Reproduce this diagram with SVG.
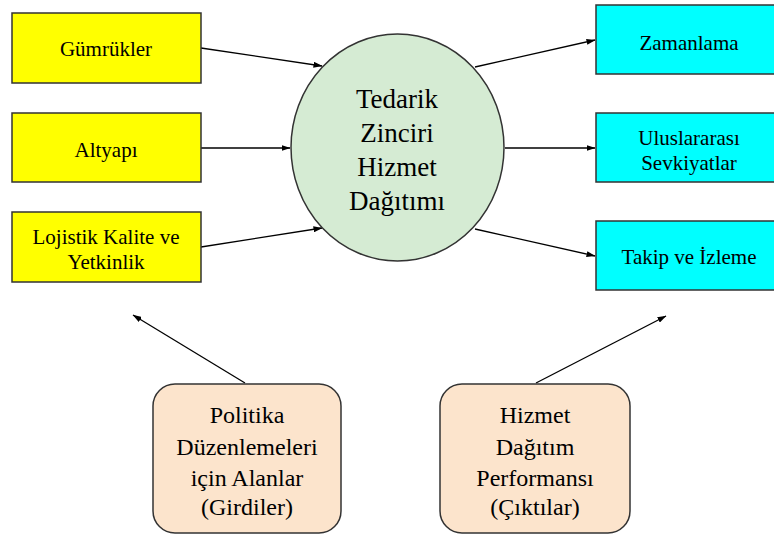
<svg xmlns="http://www.w3.org/2000/svg" width="774" height="534" viewBox="0 0 774 534">
<defs>
<marker id="ah" markerWidth="9" markerHeight="6" refX="8.5" refY="3" orient="auto" markerUnits="userSpaceOnUse">
<path d="M0,0 L9,3 L0,6 Z" fill="#000"/>
</marker>
<style>
.box{stroke:#333;stroke-width:1.5}
.in{fill:#FFFF00}
.out{fill:#00FFFF}
.peach{fill:#FCE4CC}
.t{font-family:"Liberation Serif","Times New Roman",serif;fill:#000;text-anchor:middle}
.s21{font-size:21px}
.s24{font-size:24px}
.s27{font-size:27px}
.c{stroke:#000;stroke-width:1.3;fill:none;marker-end:url(#ah)}
</style>
</defs>
<rect width="774" height="534" fill="#fff"/>
<g id="connectors">
<line class="c" x1="201" y1="48" x2="322" y2="66"/>
<line class="c" x1="201" y1="148" x2="290" y2="148"/>
<line class="c" x1="201" y1="247" x2="322" y2="228"/>
<line class="c" x1="475" y1="67" x2="595" y2="40"/>
<line class="c" x1="505" y1="148" x2="595" y2="148"/>
<line class="c" x1="475" y1="229" x2="595" y2="256"/>
<line class="c" x1="245" y1="383" x2="133" y2="315"/>
<line class="c" x1="536" y1="383" x2="666" y2="316"/>
</g>
<g id="gumrukler">
<rect class="box in" x="12" y="13" width="189" height="70"/>
<text class="t s21" x="106" y="56">Gümrükler</text>
</g>
<g id="altyapi">
<rect class="box in" x="12" y="113" width="189" height="69"/>
<text class="t s21" x="106" y="157">Altyapı</text>
</g>
<g id="lojistik">
<rect class="box in" x="12" y="212" width="189" height="70"/>
<text class="t s21" x="106" y="244">Lojistik Kalite ve</text>
<text class="t s21" x="106" y="269">Yetkinlik</text>
</g>
<g id="center">
<ellipse cx="397.5" cy="147.5" rx="106.5" ry="113.5" fill="#D5EBD3" stroke="#333" stroke-width="1.5"/>
<text class="t s27" x="397" y="108">Tedarik</text>
<text class="t s27" x="397" y="142">Zinciri</text>
<text class="t s27" x="397" y="176">Hizmet</text>
<text class="t s27" x="397" y="210">Dağıtımı</text>
</g>
<g id="zamanlama">
<rect class="box out" x="596" y="5" width="190" height="69"/>
<text class="t s21" x="689" y="50">Zamanlama</text>
</g>
<g id="uluslararasi">
<rect class="box out" x="596" y="113" width="190" height="69"/>
<text class="t s21" x="689" y="145">Uluslararası</text>
<text class="t s21" x="689" y="170">Sevkiyatlar</text>
</g>
<g id="takip">
<rect class="box out" x="596" y="221" width="190" height="69"/>
<text class="t s21" x="689" y="264">Takip ve İzleme</text>
</g>
<g id="politika">
<rect class="box peach" x="153" y="384" width="188" height="149" rx="22" ry="22"/>
<text class="t s24" x="247" y="423">Politika</text>
<text class="t s24" x="247" y="455">Düzenlemeleri</text>
<text class="t s24" x="247" y="486">için Alanlar</text>
<text class="t s24" x="247" y="515">(Girdiler)</text>
</g>
<g id="performans">
<rect class="box peach" x="440" y="384" width="190" height="149" rx="22" ry="22"/>
<text class="t s24" x="535" y="423">Hizmet</text>
<text class="t s24" x="535" y="455">Dağıtım</text>
<text class="t s24" x="535" y="486">Performansı</text>
<text class="t s24" x="535" y="515">(Çıktılar)</text>
</g>
</svg>
